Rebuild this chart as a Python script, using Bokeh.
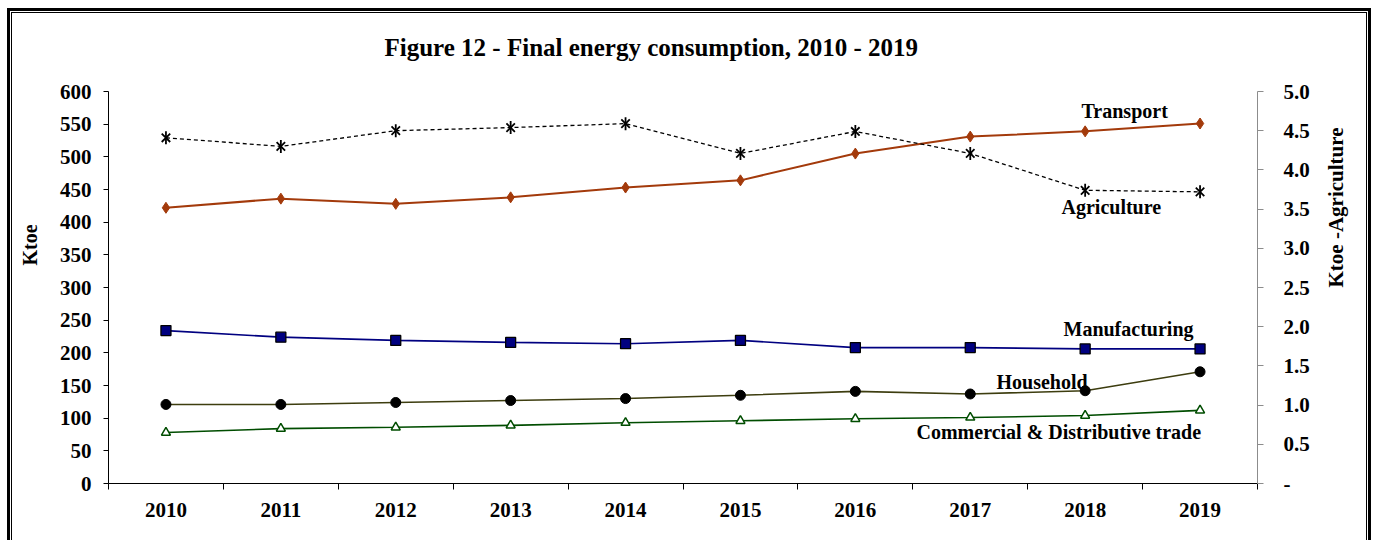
import math
from bokeh.plotting import figure
from bokeh.models import (Range1d, LinearAxis, FixedTicker, Label,
                          NumeralTickFormatter)
from bokeh.embed import file_html
from bokeh.resources import INLINE

# Final energy consumption by sector (ktoe)
years = ["2010", "2011", "2012", "2013", "2014", "2015", "2016", "2017", "2018", "2019"]
transport = [422, 436, 428, 438, 453, 464, 505, 531, 539, 551]
manufacturing = [234, 224, 219, 216, 214, 219, 208, 208, 206, 206]
household = [121, 121, 124, 127, 130, 135, 141, 137, 142, 171]
commercial = [78, 84, 86, 89, 93, 96, 99, 101, 104, 112]
# Agriculture is read against the secondary (right) axis
agriculture = [4.41, 4.30, 4.50, 4.54, 4.59, 4.21, 4.49, 4.21, 3.74, 3.72]

left_ticks = list(range(0, 601, 50))
right_ticks = [i * 0.5 for i in range(11)]

FONT = "Liberation Serif"
W, H = 1374, 540
ML, MR, MT, MB = 108, 117, 91, 57
NBSP = "\u00a0"
AGRI_MAX = 5.0

xs = [i + 0.5 for i in range(len(years))]

p = figure(width=W, height=H, output_backend="svg", toolbar_location=None,
           x_range=Range1d(0, len(years)), y_range=Range1d(0, 600),
           min_border_left=ML, min_border_right=MR, min_border_top=MT,
           min_border_bottom=MB, x_axis_type=None, y_axis_type=None)
p.outline_line_color = None
p.xgrid.visible = False
p.ygrid.visible = False
p.background_fill_color = "white"
p.border_fill_color = None

# title
p.title.text = "Figure 12 - Final energy consumption, 2010 - 2019"
p.title.text_font = FONT
p.title.text_font_style = "bold"
p.title.text_font_size = "25px"
p.title.text_color = "black"
p.title.align = "left"
p.title.offset = 276
p.title.standoff = 62

# double frame drawn behind the (transparent) border area
bars = [
    # (left, top, width, height)
    (7, 8, 3, 540),       # left, thick
    (11, 12, 1, 540),     # left, thin
    (7, 8, 1364, 3),      # top, thick
    (11, 12, 1356, 1),    # top, thin
    (1368, 8, 3, 540),    # right, thick
    (1366, 12, 1, 540),   # right, thin
]
p.styles = {
    "background-color": "white",
    "background-repeat": "no-repeat",
    "background-image": ", ".join(["linear-gradient(#000, #000)"] * len(bars)),
    "background-position": ", ".join(f"{l}px {t}px" for l, t, _, _ in bars),
    "background-size": ", ".join(f"{w}px {h}px" for _, _, w, h in bars),
}

# page pixel -> offsets from the frame's bottom-left corner
def sx(px):
    return px - ML
def sy(py):
    return (H - MB) - py

# axes (the left title sits above the frame's middle, hence the leading padding)
yl = LinearAxis(ticker=FixedTicker(ticks=left_ticks), axis_label=NBSP * 17 + "Ktoe")
yl.major_tick_out = 5
yl.major_tick_in = 0
yl.minor_tick_out = 0
yl.minor_tick_in = 0
yl.major_label_standoff = 12
yl.axis_label_standoff = 16
yl.axis_line_color = "black"
yl.major_tick_line_color = "black"
p.add_layout(yl, "left")

p.extra_y_ranges = {"agri": Range1d(0, AGRI_MAX)}
yr = LinearAxis(y_range_name="agri", ticker=FixedTicker(ticks=right_ticks),
                formatter=NumeralTickFormatter(format="0.0"))
yr.major_label_overrides = {0: "-"}
yr.axis_line_color = "#8c8c8c"
yr.major_tick_line_color = "#8c8c8c"
yr.major_tick_out = 6
yr.major_tick_in = 0
yr.minor_tick_out = 0
yr.minor_tick_in = 0
yr.major_label_standoff = 20
p.add_layout(yr, "right")

# title of the right axis, on a bare axis so it can read bottom-to-top
yr_title = LinearAxis(y_range_name="agri", ticker=FixedTicker(ticks=[]),
                      axis_label="Ktoe -Agriculture")
yr_title.axis_line_color = None
yr_title.major_tick_line_color = None
yr_title.minor_tick_line_color = None
yr_title.major_tick_out = 0
yr_title.minor_tick_out = 0
yr_title.axis_label_orientation = math.pi / 2
yr_title.axis_label_standoff = 23
p.add_layout(yr_title, "right")

xb = LinearAxis(ticker=FixedTicker(ticks=xs, minor_ticks=list(range(len(years) + 1))))
xb.major_label_overrides = {x: y for x, y in zip(xs, years)}
xb.major_tick_out = 0
xb.major_tick_in = 0
xb.minor_tick_out = 6
xb.minor_tick_in = 0
xb.minor_tick_line_color = "black"
xb.axis_line_color = "black"
xb.major_label_standoff = 13
p.add_layout(xb, "below")

for ax in [yl, yr, yr_title, xb]:
    ax.major_label_text_font = FONT
    ax.major_label_text_font_style = "bold"
    ax.major_label_text_font_size = "21px"
    ax.major_label_text_color = "black"
    ax.axis_label_text_font = FONT
    ax.axis_label_text_font_style = "bold"
    ax.axis_label_text_font_size = "20px"
    ax.axis_label_text_color = "black"
yr_title.axis_label_text_font_size = "21px"

# series
p.line(xs, transport, line_color="#A33A0B", line_width=2)
p.scatter(xs, transport, marker="diamond", size=11, fill_color="#A33A0B",
          line_color="#A33A0B")

p.line(xs, manufacturing, line_color="#000080", line_width=1.6)
p.scatter(xs, manufacturing, marker="square", size=10, fill_color="#000080",
          line_color="black", line_width=1.3)

p.line(xs, household, line_color="#3d3d0f", line_width=1.6)
p.scatter(xs, household, marker="circle", size=10, fill_color="black",
          line_color="black")

p.line(xs, commercial, line_color="#004d00", line_width=1.6)
p.scatter(xs, commercial, marker="triangle", size=9, fill_color="white",
          line_color="#004d00", line_width=1.5)

# agriculture: dashed line with a six-armed star (an x plus a vertical stroke)
p.line(xs, agriculture, y_range_name="agri", line_color="black", line_width=1.3,
       line_dash="4 3")
p.scatter(xs, agriculture, y_range_name="agri", marker="x", size=12,
          line_color="black", line_width=1.8)
p.scatter(xs, agriculture, y_range_name="agri", marker="dash", size=13,
          angle=math.pi / 2, line_color="black", line_width=1.8)

# series labels
def tag(text, px, py):
    p.add_layout(Label(x=sx(px), y=sy(py), x_units="screen", y_units="screen",
                       text=text, text_font=FONT,
                       text_font_style="bold", text_font_size="20px",
                       text_color="black", text_align="left",
                       text_baseline="alphabetic"))

tag("Transport", 1081, 110)
tag("Agriculture", 1061, 206)
tag("Manufacturing", 1063, 328)
tag("Household", 996, 381)
tag("Commercial & Distributive trade", 916, 431)

open("out.html", "w").write(file_html(p, INLINE))
